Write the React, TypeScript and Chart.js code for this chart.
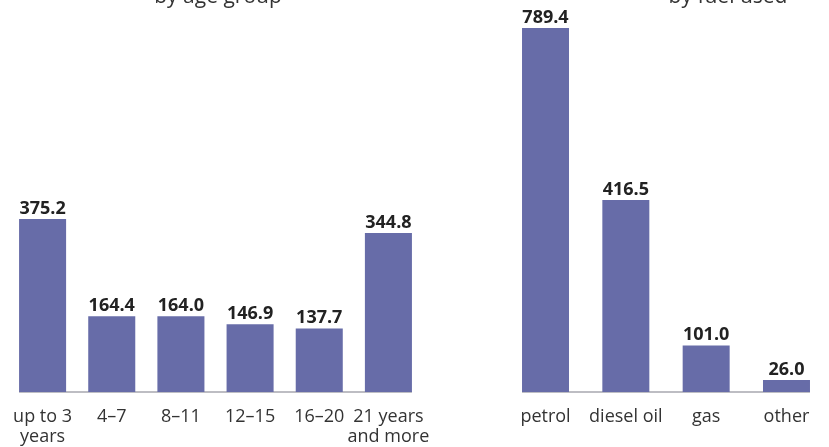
import React, { useEffect, useRef } from 'react';
import { Chart, registerables } from 'chart.js';

Chart.register(...registerables);

const ageLabels: (string | string[])[] = [['up to 3', 'years'], '4–7', '8–11', '12–15', '16–20', ['21 years', 'and more']];
const ageValues = [375.2, 164.4, 164.0, 146.9, 137.7, 344.8];
const fuelLabels = ['petrol', 'diesel oil', 'gas', 'other'];
const fuelValues = [789.4, 416.5, 101.0, 26.0];
const yMax = 850;
const titles = ['by age group', 'by fuel used'];

const BAR = '#676ca8';
const FONT = '"Open Sans", "Noto Sans", sans-serif';

const decor = {
  id: 'decor',
  beforeDatasetsDraw(chart: any) {
    const ctx = chart.ctx;
    const bars = chart.getDatasetMeta(0).data;
    const first = bars[0];
    const last = bars[bars.length - 1];
    const y0 = chart.scales.y.getPixelForValue(0);
    ctx.save();
    ctx.strokeStyle = '#bdbdc3';
    ctx.lineWidth = 2;
    ctx.beginPath();
    ctx.moveTo(first.x - first.width / 2, y0);
    ctx.lineTo(last.x + last.width / 2, y0);
    ctx.stroke();
    ctx.restore();
  },
  afterDatasetsDraw(chart: any, _args: any, opts: any) {
    const ctx = chart.ctx;
    const bars = chart.getDatasetMeta(0).data;
    const vals = chart.data.datasets[0].data as number[];
    ctx.save();
    ctx.font = `bold 18px ${FONT}`;
    ctx.fillStyle = '#222222';
    ctx.textAlign = 'center';
    ctx.textBaseline = 'alphabetic';
    bars.forEach((b: any, i: number) => {
      ctx.fillText(vals[i].toFixed(1), b.x, b.y - 5);
    });
    ctx.font = `21px ${FONT}`;
    ctx.fillStyle = '#333333';
    ctx.fillText(opts.title, opts.titleX, 3);
    ctx.restore();
  },
};

function makeConfig(labels: any[], values: number[], barPct: number, padL: number, padR: number, title: string, titleX: number): any {
  return {
    type: 'bar',
    data: {
      labels,
      datasets: [
        {
          data: values,
          backgroundColor: BAR,
          borderWidth: 0,
          categoryPercentage: 1,
          barPercentage: barPct,
        },
      ],
    },
    options: {
      animation: false,
      responsive: true,
      maintainAspectRatio: false,
      layout: { padding: { left: padL, right: padR, top: 0, bottom: 0 } },
      plugins: {
        legend: { display: false },
        tooltip: { enabled: false },
        title: { display: false },
        decor: { title, titleX },
      },
      scales: {
        x: {
          grid: { display: false },
          border: { display: false },
          ticks: {
            autoSkip: false,
            maxRotation: 0,
            minRotation: 0,
            padding: 7,
            color: '#333333',
            font: { family: FONT, size: 18, lineHeight: '20px' },
          },
          afterFit: (scale: any) => {
            scale.height = 55;
          },
        },
        y: {
          display: false,
          min: 0,
          max: yMax,
        },
      },
    },
    plugins: [decor],
  };
}

function BarChart(props: { config: any; left: number; width: number }) {
  const ref = useRef<HTMLCanvasElement | null>(null);
  useEffect(() => {
    if (!ref.current) return;
    const chart = new Chart(ref.current, props.config);
    return () => chart.destroy();
  }, []);
  return (
    <div style={{ position: 'absolute', left: props.left, top: 0, width: props.width, height: 447 }}>
      <canvas ref={ref} />
    </div>
  );
}

export default function App() {
  const leftCfg = makeConfig(ageLabels, ageValues, 0.68, 8, 27, titles[0], 218);
  const rightCfg = makeConfig(fuelLabels, fuelValues, 0.585, 75.35, 2.35, titles[1], 298);
  return (
    <div style={{ position: 'absolute', left: 0, top: 0, width: 829, height: 447, background: '#fff' }}>
      <BarChart config={leftCfg} left={0} width={450} />
      <BarChart config={rightCfg} left={430} width={399} />
    </div>
  );
}
